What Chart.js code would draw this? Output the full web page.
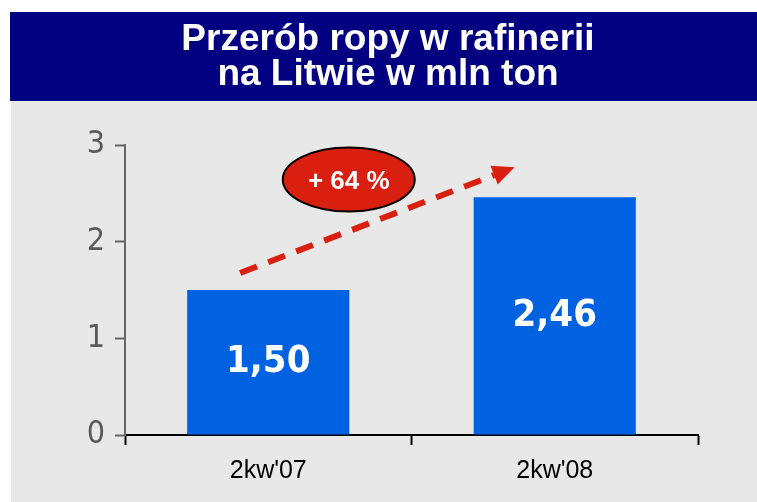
<!DOCTYPE html>
<html>
<head>
<meta charset="utf-8">
<script src="https://cdn.jsdelivr.net/npm/chart.js@4/dist/chart.umd.min.js"></script>
<style>
  html, body { margin: 0; padding: 0; background: #ffffff; }
  #wrap { width: 757px; height: 502px; position: relative; }
</style>
</head>
<body>
<div id="wrap"><canvas id="chart"></canvas></div>
<script>
// Dane wykresu
const categories = ["2kw'07", "2kw'08"];
const values = [1.50, 2.46];
const yTicks = [0, 1, 2, 3];
const titleLines = ['Przerób ropy w rafinerii', 'na Litwie w mln ton'];
const changeLabel = '+ 64 %';

// Kolory
const NAVY = '#000080';
const GREY = '#e8e8e8';
const BAR_BLUE = '#0062e0';
const RED = '#d92010';

// Formatowanie wartości (przecinek dziesiętny)
const formatValue = (v) => v.toFixed(2).replace('.', ',');

// Tło, nagłówek, etykiety słupków i strzałka
const decorPlugin = {
    id: 'decor',
    beforeDraw: (chart) => {
        const ctx = chart.ctx;
        ctx.save();
        ctx.fillStyle = '#ffffff';
        ctx.fillRect(0, 0, chart.width, chart.height);
        ctx.fillStyle = GREY;
        ctx.fillRect(11, 101, chart.width - 11, chart.height - 101);
        ctx.fillStyle = NAVY;
        ctx.fillRect(10, 12, chart.width - 10, 89);

        ctx.fillStyle = '#ffffff';
        ctx.font = 'bold 37px "Liberation Sans", Arial, sans-serif';
        ctx.textAlign = 'center';
        ctx.textBaseline = 'alphabetic';
        ctx.fillText(titleLines[0], 388, 50);
        ctx.fillText(titleLines[1], 388, 85);
        ctx.restore();
    },
    afterDatasetsDraw: (chart) => {
        const ctx = chart.ctx;
        const meta = chart.getDatasetMeta(0);
        ctx.save();
        ctx.fillStyle = '#ffffff';
        ctx.font = 'bold 38px "DejaVu Sans Condensed", "DejaVu Sans", sans-serif';
        ctx.textAlign = 'center';
        ctx.textBaseline = 'middle';
        meta.data.forEach((bar, i) => {
            ctx.fillText(formatValue(values[i]), bar.x, (bar.y + bar.base) / 2);
        });
        ctx.restore();
    },
    afterDraw: (chart) => {
        const ctx = chart.ctx;
        const x = chart.scales.x;
        const y = chart.scales.y;
        const step = x.getPixelForValue(1) - x.getPixelForValue(0);

        // Strzałka przerywana
        const x0 = x.getPixelForValue(0) - 0.098 * step;
        const y0 = y.getPixelForValue(1.676);
        const x1 = x.getPixelForValue(0) + 0.86 * step;
        const y1 = y.getPixelForValue(2.77);
        const ang = Math.atan2(y1 - y0, x1 - x0);
        const headLen = 22;
        const headW = 10;
        const bx = x1 - headLen * Math.cos(ang);
        const by = y1 - headLen * Math.sin(ang);

        ctx.save();
        ctx.strokeStyle = RED;
        ctx.lineWidth = 6;
        ctx.setLineDash([18, 12]);
        ctx.beginPath();
        ctx.moveTo(x0, y0);
        ctx.lineTo(bx, by);
        ctx.stroke();
        ctx.setLineDash([]);
        ctx.fillStyle = RED;
        ctx.beginPath();
        ctx.moveTo(x1, y1);
        ctx.lineTo(bx + headW * Math.sin(ang), by - headW * Math.cos(ang));
        ctx.lineTo(bx - headW * Math.sin(ang), by + headW * Math.cos(ang));
        ctx.closePath();
        ctx.fill();

        // Elipsa z przyrostem
        const cx = x.getPixelForValue(0) + 0.281 * step;
        const cy = y.getPixelForValue(2.643);
        ctx.beginPath();
        ctx.ellipse(cx, cy, 66, 32, 0, 0, Math.PI * 2);
        ctx.fillStyle = RED;
        ctx.fill();
        ctx.lineWidth = 2;
        ctx.strokeStyle = '#000000';
        ctx.stroke();
        ctx.fillStyle = '#ffffff';
        ctx.font = 'bold 26px "Liberation Sans", Arial, sans-serif';
        ctx.textAlign = 'center';
        ctx.textBaseline = 'middle';
        ctx.fillText(changeLabel, cx, cy + 2);
        ctx.restore();
    }
};

const chart = new Chart(document.getElementById('chart'), {
    type: 'bar',
    data: {
        labels: categories,
        datasets: [{
            data: values,
            backgroundColor: BAR_BLUE,
            borderWidth: 0,
            barPercentage: 0.566,
            categoryPercentage: 1
        }]
    },
    options: {
        responsive: true,
        maintainAspectRatio: false,
        animation: false,
        layout: { padding: { left: 65, right: 59, top: 145, bottom: 7 } },
        plugins: {
            legend: { display: false },
            tooltip: { enabled: false },
            title: { display: false }
        },
        scales: {
            x: {
                offset: true,
                afterFit: (s) => { s.height = 60; },
                grid: {
                    offset: true,
                    drawOnChartArea: false,
                    tickLength: 10,
                    tickWidth: 2,
                    tickColor: '#000000'
                },
                border: { color: '#000000', width: 2 },
                ticks: {
                    color: '#000000',
                    padding: 11,
                    font: { family: '"Liberation Sans", Arial, sans-serif', size: 25 }
                }
            },
            y: {
                min: 0,
                max: 3,
                afterFit: (s) => { s.width = 60; },
                afterBuildTicks: (s) => { s.ticks = yTicks.map(v => ({ value: v })); },
                grid: {
                    drawOnChartArea: false,
                    tickLength: 10,
                    tickWidth: 2,
                    tickColor: '#666666'
                },
                border: { color: '#666666', width: 2 },
                ticks: {
                    color: '#5a5a5a',
                    padding: 10,
                    font: { family: '"DejaVu Sans Condensed", "DejaVu Sans", sans-serif', size: 32 }
                }
            }
        }
    },
    plugins: [decorPlugin]
});
</script>
</body>
</html>
